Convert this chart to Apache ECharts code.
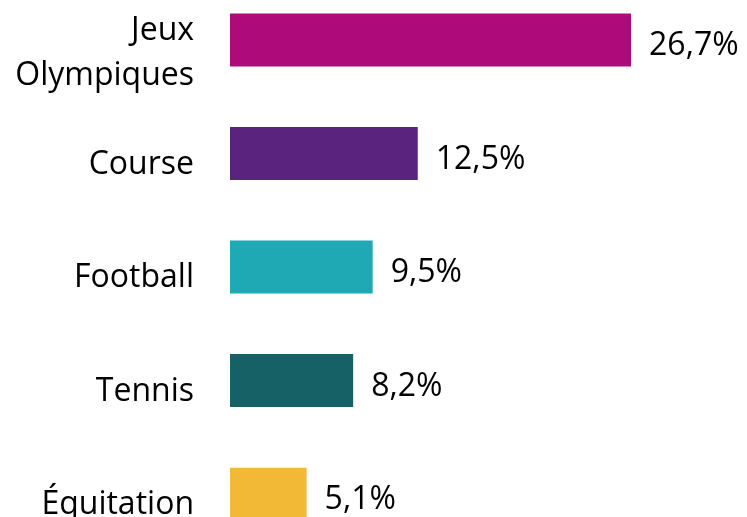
<!DOCTYPE html>
<html>
<head>
<meta charset="utf-8">
<script src="https://cdn.jsdelivr.net/npm/echarts@6/dist/echarts.min.js"></script>
<style>
  html, body { margin: 0; padding: 0; background: #fff; }
  #chart { width: 747px; height: 517px; }
</style>
</head>
<body>
<div id="chart"></div>
<script>
  // sports, top to bottom
  const categories = ['Jeux\nOlympiques', 'Course', 'Football', 'Tennis', 'Équitation'];
  const shares = [26.7, 12.5, 9.5, 8.2, 5.1];
  const barColors = ['#AF0A79', '#59237E', '#1FA9B5', '#166166', '#F2B936'];

  const chart = echarts.init(document.getElementById('chart'));
  chart.setOption({
    animation: false,
    grid: {
      left: 230,
      right: 66.4,
      top: -16.7,
      bottom: -33.9,
      outerBoundsMode: 'none',
      containLabel: false,
    },
    xAxis: {
      type: 'value',
      min: 0,
      max: 30,
      show: false,
    },
    yAxis: {
      type: 'category',
      inverse: true,
      data: categories,
      axisLine: {show: false},
      axisTick: {show: false},
      axisLabel: {
        interval: 0,
        margin: 36,
        fontFamily: 'Open Sans',
        fontSize: 32,
        color: '#000',
        // two-line label sits a bit lower, like the original
        formatter: (v) => v.indexOf('\n') >= 0
          ? '{s| }\n' + v.split('\n').map((s) => '{j|' + s + '}').join('\n')
          : '{t|' + v + '}',
        rich: {
          t: {fontFamily: 'Open Sans', fontSize: 32, color: '#000', padding: [22, 0, 0, 0]},
          j: {fontFamily: 'Open Sans', fontSize: 32, color: '#000', lineHeight: 45},
          s: {fontSize: 10, lineHeight: 26},
        },
      },
    },
    series: [
      {
        type: 'bar',
        barWidth: 53,
        data: shares.map((v, i) => ({value: v, itemStyle: {color: barColors[i]}})),
        label: {
          show: true,
          position: 'right',
          distance: 18,
          offset: [0, 6],
          fontFamily: 'Open Sans',
          fontSize: 32,
          color: '#000',
          formatter: (p) => String(p.value).replace('.', ',') + '%',
        },
      },
    ],
  });
</script>
</body>
</html>
